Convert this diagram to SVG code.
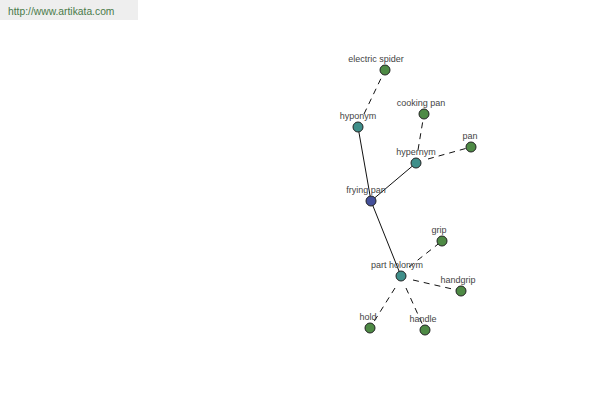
<svg xmlns="http://www.w3.org/2000/svg" width="600" height="400" viewBox="0 0 600 400">
<style>
.lbl{font-family:"Liberation Sans",Arial,sans-serif;font-size:9px;fill:#444;text-anchor:middle}
.n{stroke:#222;stroke-width:1}
.leaf{fill:#4e8a45}
.rel{fill:#3f8f8a}
.root{fill:#44509a}
.solid{stroke:#111;stroke-width:1;fill:none}
.dash{stroke:#111;stroke-width:1;fill:none;stroke-dasharray:6,5}
</style>
<rect x="0" y="0" width="138" height="20" fill="#eeeeee"/>
<text x="8" y="15" font-family="'Liberation Sans',Arial,sans-serif" font-size="10.3" fill="#4a7a4a">http://www.artikata.com</text>
<g id="connectors">
<line class="solid" x1="371" y1="201" x2="358" y2="127"/>
<line class="solid" x1="371" y1="201" x2="416" y2="163"/>
<line class="solid" x1="371" y1="201" x2="401" y2="276"/>
<line class="dash" x1="364" y1="114" x2="385" y2="70"/>
<line class="dash" x1="418" y1="150" x2="424" y2="114"/>
<line class="dash" x1="428" y1="159" x2="471" y2="147"/>
<line class="dash" x1="409" y1="267" x2="442" y2="241"/>
<line class="dash" x1="413" y1="280" x2="461" y2="291"/>
<line class="dash" x1="395" y1="288" x2="370" y2="328"/>
<line class="dash" x1="406" y1="288" x2="425" y2="330"/>
</g>
<g id="electric-spider"><circle class="n leaf" cx="385" cy="70" r="5"/><text class="lbl" x="376" y="62">electric spider</text></g>
<g id="hyponym"><circle class="n rel" cx="358" cy="127" r="5"/><text class="lbl" x="358" y="119">hyponym</text></g>
<g id="cooking-pan"><circle class="n leaf" cx="424" cy="114" r="5"/><text class="lbl" x="421" y="106">cooking pan</text></g>
<g id="pan"><circle class="n leaf" cx="471" cy="147" r="5"/><text class="lbl" x="470" y="139">pan</text></g>
<g id="hypernym"><circle class="n rel" cx="416" cy="163" r="5"/><text class="lbl" x="416" y="155">hypernym</text></g>
<g id="frying-pan"><circle class="n root" cx="371" cy="201" r="5"/><text class="lbl" x="366" y="193">frying pan</text></g>
<g id="grip"><circle class="n leaf" cx="442" cy="241" r="5"/><text class="lbl" x="439" y="233">grip</text></g>
<g id="part-holonym"><circle class="n rel" cx="401" cy="276" r="5"/><text class="lbl" x="397" y="268">part holonym</text></g>
<g id="handgrip"><circle class="n leaf" cx="461" cy="291" r="5"/><text class="lbl" x="458" y="283">handgrip</text></g>
<g id="hold"><circle class="n leaf" cx="370" cy="328" r="5"/><text class="lbl" x="368" y="320">hold</text></g>
<g id="handle"><circle class="n leaf" cx="425" cy="330" r="5"/><text class="lbl" x="423" y="322">handle</text></g>
</svg>
